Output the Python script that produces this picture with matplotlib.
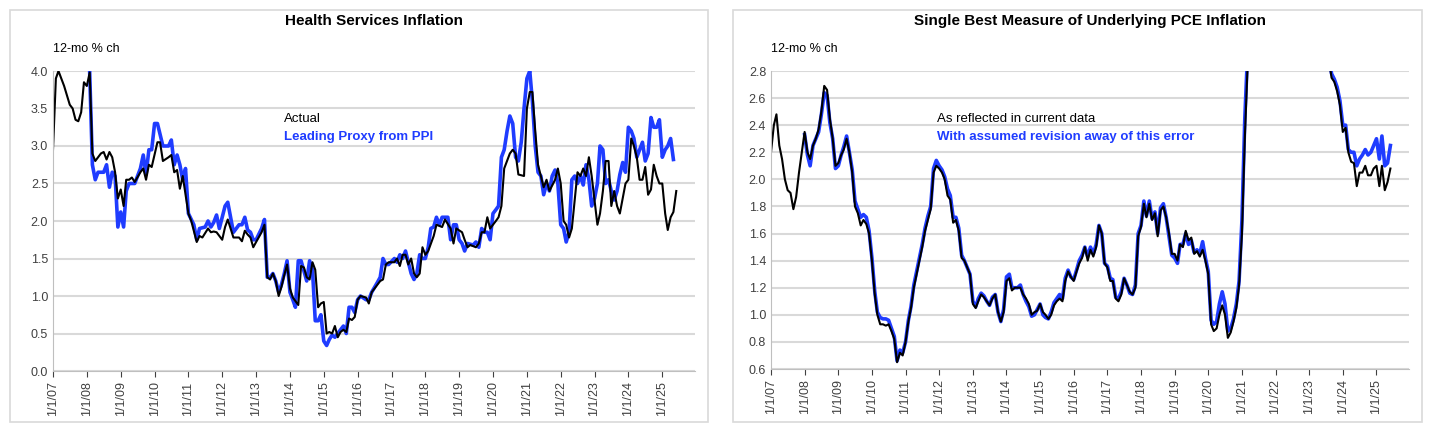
import numpy as np
import pandas as pd
import matplotlib
matplotlib.use("Agg")
import matplotlib.pyplot as plt
import matplotlib.dates as mdates
from matplotlib.patches import Rectangle

plt.rcParams['font.family'] = ['Liberation Sans', 'DejaVu Sans']
BLUE = '#1f3cff'

# Health services: actual (black)
hs_act = [
 ("2007-01",2.95),("2007-02",3.9),("2007-03",4.0),("2007-05",3.8),("2007-07",3.55),("2007-08",3.5),
 ("2007-09",3.35),("2007-10",3.33),("2007-11",3.45),("2007-12",3.85),("2008-01",3.8),("2008-02",3.98),
 ("2008-03",2.9),("2008-04",2.8),("2008-06",2.9),("2008-07",2.92),("2008-08",2.82),("2008-09",2.92),
 ("2008-10",2.85),("2008-11",2.65),("2008-12",2.3),("2009-01",2.42),("2009-02",2.2),("2009-03",2.55),
 ("2009-04",2.55),("2009-05",2.58),("2009-06",2.52),("2009-08",2.65),("2009-09",2.7),("2009-10",2.55),
 ("2009-11",2.75),("2009-12",2.72),("2010-02",3.05),("2010-03",3.05),("2010-04",2.8),("2010-06",2.85),
 ("2010-07",2.88),("2010-08",2.65),("2010-09",2.68),("2010-10",2.43),("2010-11",2.6),("2011-01",2.1),
 ("2011-02",2.0),("2011-04",1.72),("2011-05",1.8),("2011-06",1.78),("2011-08",1.9),("2011-09",1.85),
 ("2011-10",1.86),("2011-11",1.85),("2012-01",1.75),("2012-02",1.92),("2012-03",2.02),("2012-04",1.9),
 ("2012-05",1.78),("2012-07",1.78),("2012-08",1.73),("2012-09",1.87),("2012-10",1.82),("2012-11",1.78),
 ("2012-12",1.65),("2013-01",1.72),("2013-03",1.85),("2013-04",1.95),("2013-05",1.25),("2013-06",1.22),
 ("2013-07",1.3),("2013-08",1.2),("2013-09",1.0),("2013-10",1.12),("2013-11",1.28),("2013-12",1.42),
 ("2014-01",1.1),("2014-02",0.98),("2014-04",0.88),("2014-05",1.4),("2014-06",1.38),("2014-07",1.25),
 ("2014-08",1.22),("2014-09",1.45),("2014-10",1.35),("2014-11",0.85),("2014-12",0.9),("2015-01",0.92),
 ("2015-02",0.5),("2015-03",0.52),("2015-04",0.5),("2015-05",0.6),("2015-06",0.45),("2015-07",0.52),
 ("2015-08",0.55),("2015-09",0.52),("2015-10",0.7),("2015-11",0.68),("2015-12",0.72),("2016-01",0.95),
 ("2016-02",1.0),("2016-04",0.98),("2016-05",0.9),("2016-06",1.05),("2016-08",1.15),("2016-09",1.2),
 ("2016-10",1.22),("2016-11",1.42),("2016-12",1.45),("2017-02",1.45),("2017-03",1.5),("2017-04",1.4),
 ("2017-05",1.55),("2017-06",1.55),("2017-07",1.42),("2017-08",1.5),("2017-09",1.3),("2017-10",1.25),
 ("2017-11",1.3),("2017-12",1.65),("2018-01",1.55),("2018-02",1.6),("2018-04",1.8),("2018-05",1.95),
 ("2018-07",1.92),("2018-08",2.02),("2018-10",1.9),("2018-11",1.7),("2018-12",1.9),("2019-02",1.85),
 ("2019-03",1.75),("2019-04",1.65),("2019-05",1.68),("2019-07",1.65),("2019-08",1.7),("2019-09",1.85),
 ("2019-10",1.85),("2019-11",2.05),("2019-12",1.9),("2020-02",2.0),("2020-03",2.05),("2020-04",2.2),
 ("2020-05",2.7),("2020-07",2.9),("2020-08",2.95),("2020-09",2.9),("2020-10",2.62),("2020-12",2.6),
 ("2021-01",3.5),("2021-02",3.72),("2021-03",3.72),("2021-04",3.2),("2021-05",2.75),("2021-06",2.6),
 ("2021-07",2.45),("2021-08",2.55),("2021-09",2.4),("2021-11",2.55),("2021-12",2.7),("2022-01",2.5),
 ("2022-02",2.0),("2022-03",1.95),("2022-04",1.78),("2022-05",1.9),("2022-07",2.65),("2022-08",2.6),
 ("2022-09",2.7),("2022-10",2.6),("2022-11",2.85),("2022-12",2.6),("2023-02",1.95),("2023-03",2.1),
 ("2023-04",2.4),("2023-05",2.8),("2023-06",2.8),("2023-07",2.2),("2023-08",2.4),("2023-09",2.2),
 ("2023-10",2.1),("2023-11",2.3),("2023-12",2.5),("2024-01",2.55),("2024-02",3.1),("2024-03",3.0),
 ("2024-04",2.85),("2024-05",2.55),("2024-06",2.55),("2024-07",2.72),("2024-08",2.35),("2024-09",2.42),
 ("2024-10",2.75),("2024-11",2.6),("2024-12",2.5),("2025-01",2.5),("2025-02",2.1),("2025-03",1.88),
 ("2025-04",2.05),("2025-05",2.12),("2025-06",2.4)]

# Health services: leading proxy from PPI (blue)
hs_ppi = [
 ("2008-02",3.98),("2008-03",2.75),("2008-04",2.55),("2008-05",2.65),("2008-07",2.65),("2008-08",2.75),
 ("2008-09",2.45),("2008-10",2.65),("2008-11",2.6),("2008-12",1.92),("2009-01",2.12),("2009-02",1.92),
 ("2009-03",2.4),("2009-04",2.5),("2009-06",2.5),("2009-08",2.7),("2009-09",2.88),("2009-10",2.62),
 ("2009-11",2.95),("2009-12",2.95),("2010-01",3.3),("2010-02",3.3),("2010-04",3.0),("2010-06",3.0),
 ("2010-07",3.08),("2010-08",2.75),("2010-09",2.88),("2010-10",2.75),("2010-11",2.55),("2010-12",2.7),
 ("2011-01",2.1),("2011-03",1.95),("2011-04",1.75),("2011-05",1.9),("2011-07",1.92),("2011-08",2.0),
 ("2011-09",1.92),("2011-10",1.98),("2011-11",2.08),("2011-12",1.9),("2012-02",2.2),("2012-03",2.25),
 ("2012-05",1.85),("2012-07",1.95),("2012-08",1.95),("2012-09",2.05),("2012-10",1.88),("2012-11",1.85),
 ("2012-12",1.75),("2013-01",1.75),("2013-03",1.9),("2013-04",2.02),("2013-05",1.25),("2013-06",1.25),
 ("2013-07",1.3),("2013-08",1.2),("2013-09",1.05),("2013-10",1.15),("2013-11",1.3),("2013-12",1.47),
 ("2014-01",1.05),("2014-02",0.95),("2014-03",0.85),("2014-04",1.47),("2014-05",1.47),("2014-07",1.2),
 ("2014-08",1.47),("2014-09",1.35),("2014-10",0.67),("2014-11",0.67),("2014-12",0.75),("2015-01",0.4),
 ("2015-02",0.34),("2015-03",0.42),("2015-04",0.48),("2015-05",0.45),("2015-06",0.5),("2015-07",0.55),
 ("2015-08",0.6),("2015-09",0.5),("2015-10",0.85),("2015-11",0.85),("2015-12",0.78),("2016-01",0.95),
 ("2016-02",1.0),("2016-04",0.95),("2016-05",0.95),("2016-06",1.05),("2016-08",1.18),("2016-09",1.25),
 ("2016-10",1.5),("2016-11",1.42),("2016-12",1.42),("2017-02",1.5),("2017-03",1.45),("2017-04",1.55),
 ("2017-05",1.5),("2017-06",1.6),("2017-07",1.45),("2017-08",1.3),("2017-09",1.22),("2017-10",1.3),
 ("2017-11",1.55),("2017-12",1.5),("2018-01",1.5),("2018-02",1.65),("2018-03",1.9),("2018-04",1.92),
 ("2018-05",2.05),("2018-06",1.95),("2018-07",2.05),("2018-09",2.05),("2018-10",1.75),("2018-11",1.95),
 ("2018-12",1.95),("2019-01",1.75),("2019-02",1.7),("2019-03",1.6),("2019-04",1.7),("2019-06",1.68),
 ("2019-07",1.72),("2019-08",1.65),("2019-09",1.9),("2019-10",1.85),("2019-11",1.85),("2019-12",1.75),
 ("2020-01",2.1),("2020-02",2.15),("2020-03",2.2),("2020-04",2.85),("2020-05",2.95),("2020-06",3.2),
 ("2020-07",3.4),("2020-08",3.3),("2020-09",2.85),("2020-10",2.8),("2020-11",3.05),("2020-12",3.5),
 ("2021-01",3.9),("2021-02",4.0),("2021-03",3.6),("2021-04",3.0),("2021-05",2.65),("2021-06",2.6),
 ("2021-07",2.35),("2021-08",2.5),("2021-09",2.4),("2021-10",2.6),("2021-11",2.68),("2021-12",2.5),
 ("2022-01",1.95),("2022-02",1.9),("2022-03",1.72),("2022-04",1.85),("2022-05",2.55),("2022-06",2.6),
 ("2022-07",2.5),("2022-08",2.6),("2022-09",2.48),("2022-10",2.75),("2022-11",2.55),("2022-12",2.2),
 ("2023-01",2.3),("2023-02",2.5),("2023-03",3.0),("2023-04",2.95),("2023-05",2.5),("2023-06",2.55),
 ("2023-07",2.4),("2023-08",2.28),("2023-09",2.4),("2023-10",2.62),("2023-11",2.78),("2023-12",2.65),
 ("2024-01",3.25),("2024-02",3.2),("2024-03",3.1),("2024-04",2.85),("2024-05",2.95),("2024-06",3.05),
 ("2024-07",2.8),("2024-08",2.9),("2024-09",3.38),("2024-10",3.25),("2024-11",3.25),("2024-12",3.35),
 ("2025-01",2.85),("2025-02",2.95),("2025-03",3.0),("2025-04",3.1),("2025-05",2.82)]

# Underlying PCE: (month, as reflected in current data, with assumed revision)
pce = [
 ("2007-01",2.2,None),("2007-02",2.4,None),("2007-03",2.48,None),("2007-04",2.25,None),("2007-05",2.15,None),
 ("2007-06",2.0,None),("2007-07",1.92,None),("2007-08",1.9,None),("2007-09",1.78,None),("2007-10",1.87,None),
 ("2007-11",2.05,None),("2007-12",2.2,None),("2008-01",2.35,2.33),("2008-02",2.2,2.18),("2008-03",2.15,2.1),
 ("2008-04",2.25,2.25),("2008-05",2.3,2.3),("2008-06",2.37,2.35),("2008-07",2.5,2.48),("2008-08",2.69,2.64),
 ("2008-09",2.66,2.62),("2008-10",2.45,2.42),("2008-11",2.3,2.3),("2008-12",2.1,2.08),("2009-01",2.12,2.1),
 ("2009-02",2.18,2.18),("2009-03",2.22,2.24),("2009-04",2.3,2.32),("2009-05",2.2,2.2),("2009-06",2.05,2.07),
 ("2009-07",1.8,1.84),("2009-08",1.75,1.78),("2009-09",1.66,1.72),("2009-10",1.7,1.74),("2009-11",1.67,1.72),
 ("2009-12",1.6,1.62),("2010-01",1.4,1.42),("2010-02",1.15,1.17),("2010-03",1.0,1.02),("2010-04",0.93,0.98),
 ("2010-05",0.93,0.97),("2010-06",0.92,0.97),("2010-07",0.93,0.96),("2010-08",0.88,0.9),("2010-09",0.82,0.84),
 ("2010-10",0.65,0.66),("2010-11",0.72,0.74),("2010-12",0.7,0.72),("2011-01",0.8,0.8),("2011-02",0.95,0.96),
 ("2011-03",1.05,1.06),("2011-04",1.2,1.22),("2011-05",1.3,1.32),("2011-06",1.4,1.42),("2011-07",1.5,1.52),
 ("2011-08",1.62,1.64),("2011-09",1.7,1.73),("2011-10",1.78,1.8),("2011-11",2.05,2.08),("2011-12",2.1,2.14),
 ("2012-01",2.08,2.1),("2012-02",2.05,2.07),("2012-03",2.0,2.02),("2012-04",1.88,1.93),("2012-05",1.85,1.88),
 ("2012-06",1.68,1.72),("2012-07",1.7,1.72),("2012-08",1.62,1.64),("2012-09",1.42,1.44),("2012-10",1.4,1.4),
 ("2012-11",1.35,1.35),("2012-12",1.3,1.3),("2013-01",1.08,1.1),("2013-02",1.05,1.06),("2013-03",1.1,1.12),
 ("2013-04",1.15,1.16),("2013-05",1.13,1.14),("2013-06",1.1,1.1),("2013-07",1.07,1.07),("2013-08",1.12,1.13),
 ("2013-09",1.15,1.15),("2013-10",1.02,1.02),("2013-11",0.95,0.95),("2013-12",1.02,1.04),("2014-01",1.25,1.28),
 ("2014-02",1.27,1.3),("2014-03",1.18,1.2),("2014-04",1.2,1.2),("2014-05",1.2,1.2),("2014-06",1.2,1.22),
 ("2014-07",1.15,1.15),("2014-08",1.12,1.1),("2014-09",1.08,1.06),("2014-10",1.0,0.99),("2014-11",1.02,1.0),
 ("2014-12",1.03,1.04),("2015-01",1.08,1.08),("2015-02",1.02,1.0),("2015-03",1.0,0.98),("2015-04",0.97,0.97),
 ("2015-05",1.0,1.02),("2015-06",1.07,1.09),("2015-07",1.1,1.12),("2015-08",1.12,1.15),("2015-09",1.1,1.12),
 ("2015-10",1.25,1.27),("2015-11",1.32,1.33),("2015-12",1.28,1.28),("2016-01",1.25,1.26),("2016-02",1.32,1.33),
 ("2016-03",1.38,1.4),("2016-04",1.42,1.44),("2016-05",1.5,1.5),("2016-06",1.4,1.43),("2016-07",1.48,1.5),
 ("2016-08",1.43,1.45),("2016-09",1.5,1.52),("2016-10",1.66,1.66),("2016-11",1.6,1.6),("2016-12",1.38,1.38),
 ("2017-01",1.35,1.36),("2017-02",1.25,1.27),("2017-03",1.25,1.26),("2017-04",1.12,1.13),("2017-05",1.1,1.12),
 ("2017-06",1.15,1.17),("2017-07",1.27,1.27),("2017-08",1.22,1.22),("2017-09",1.17,1.16),("2017-10",1.15,1.15),
 ("2017-11",1.2,1.22),("2017-12",1.58,1.6),("2018-01",1.65,1.66),("2018-02",1.82,1.84),("2018-03",1.72,1.73),
 ("2018-04",1.82,1.84),("2018-05",1.7,1.71),("2018-06",1.75,1.76),("2018-07",1.58,1.6),("2018-08",1.77,1.79),
 ("2018-09",1.8,1.82),("2018-10",1.72,1.72),("2018-11",1.6,1.58),("2018-12",1.45,1.44),("2019-01",1.45,1.42),
 ("2019-02",1.4,1.38),("2019-03",1.52,1.52),("2019-04",1.5,1.52),("2019-05",1.62,1.6),("2019-06",1.55,1.52),
 ("2019-07",1.57,1.55),("2019-08",1.45,1.46),("2019-09",1.47,1.48),("2019-10",1.43,1.45),("2019-11",1.48,1.54),
 ("2019-12",1.4,1.42),("2020-01",1.3,1.32),("2020-02",0.93,0.96),("2020-03",0.88,0.93),("2020-04",0.9,0.95),
 ("2020-05",1.0,1.08),("2020-06",1.07,1.17),("2020-07",1.0,1.08),("2020-08",0.83,0.88),("2020-09",0.87,0.9),
 ("2020-10",0.95,0.97),("2020-11",1.05,1.08),("2020-12",1.22,1.25),("2021-01",1.6,1.7),("2021-02",2.3,2.45),
 ("2021-03",2.8,2.9),("2021-04",3.3,3.4),("2021-08",3.6,3.7),("2022-06",4.5,4.6),("2023-03",3.6,3.7),
 ("2023-08",2.9,2.92),("2023-09",2.75,2.78),("2023-10",2.72,2.74),("2023-11",2.65,2.68),("2023-12",2.55,2.58),
 ("2024-01",2.35,2.4),("2024-02",2.38,2.4),("2024-03",2.2,2.22),("2024-04",2.13,2.2),("2024-05",2.12,2.2),
 ("2024-06",1.95,2.1),("2024-07",2.05,2.15),("2024-08",2.05,2.18),("2024-09",2.1,2.22),("2024-10",2.03,2.18),
 ("2024-11",2.03,2.2),("2024-12",2.08,2.25),("2025-01",2.1,2.3),("2025-02",1.95,2.15),("2025-03",2.1,2.32),
 ("2025-04",1.92,2.1),("2025-05",1.98,2.12),("2025-06",2.08,2.25)]


def to_df(rows, cols):
    df = pd.DataFrame(rows, columns=['date'] + cols)
    df['date'] = pd.to_datetime(df['date'])
    return df


def style_ax(ax, ylim, yticks, title, leg1, leg2, legx):
    ax.set_xlim(pd.Timestamp('2007-01-01'), pd.Timestamp('2025-12-20'))
    ax.set_ylim(*ylim)
    ax.set_yticks(yticks)
    ax.set_yticklabels(['%.1f' % v for v in yticks])
    ax.grid(axis='y', color='#d9d9d9', lw=1.5)
    ax.set_axisbelow(True)
    for s in ['top', 'right']:
        ax.spines[s].set_visible(False)
    for s in ['left', 'bottom']:
        ax.spines[s].set_color('#bfbfbf')
    ax.xaxis.set_major_locator(mdates.YearLocator())
    ax.xaxis.set_major_formatter(mdates.DateFormatter('1/1/%y'))
    ax.tick_params(axis='x', rotation=90, labelsize=9, colors='#404040', length=4)
    ax.tick_params(axis='y', labelsize=9, colors='#404040', length=0)
    ax.set_title(title, fontsize=11, fontweight='bold', pad=33)
    ax.text(0.0, 1.065, '12-mo % ch', transform=ax.transAxes, fontsize=9)
    ax.text(legx, 0.83, leg1, transform=ax.transAxes, fontsize=9.5)
    ax.text(legx, 0.77, leg2, transform=ax.transAxes, fontsize=9.5,
            color=BLUE, fontweight='bold')


fig = plt.figure(figsize=(14.32, 4.44), dpi=100)
W, H = 1432., 444.
for x0, x1 in [(10, 708), (733, 1422)]:
    fig.patches.append(Rectangle((x0 / W, 1 - 422 / H), (x1 - x0) / W, 412 / H,
                                 transform=fig.transFigure, fill=False,
                                 ec='#d9d9d9', lw=1.2))

ax1 = fig.add_axes([53 / W, 1 - 371 / H, 642 / W, 300 / H])
a = to_df(hs_act, ['v'])
b = to_df(hs_ppi, ['v'])
ax1.plot(b['date'], b['v'], color=BLUE, lw=2.6)
ax1.plot(a['date'], a['v'], color='black', lw=1.5)
style_ax(ax1, (0, 4), np.arange(0, 4.01, 0.5), 'Health Services Inflation',
         'Actual', 'Leading Proxy from PPI', 0.36)

ax2 = fig.add_axes([771 / W, 1 - 369 / H, 638 / W, 298 / H])
p = to_df(pce, ['cur', 'rev'])
ax2.plot(p['date'], p['rev'], color=BLUE, lw=2.6)
ax2.plot(p['date'], p['cur'], color='black', lw=1.5)
style_ax(ax2, (0.6, 2.8), np.arange(0.6, 2.81, 0.2),
         'Single Best Measure of Underlying PCE Inflation',
         'As reflected in current data', 'With assumed revision away of this error', 0.26)

fig.savefig('out.png', dpi=100)
